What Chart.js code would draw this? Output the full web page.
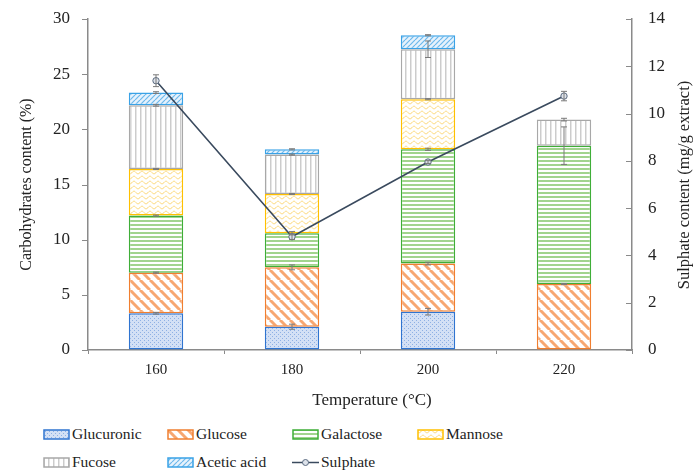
<!DOCTYPE html>
<html>
<head>
<meta charset="utf-8">
<script src="https://cdn.jsdelivr.net/npm/chart.js@4.4.1/dist/chart.umd.min.js"></script>
<style>
    html, body { margin: 0; padding: 0; background: #fff; }
    #wrap { position: relative; width: 696px; height: 473px; }
    #c { position: absolute; left: 0; top: 0; }
    .lg { position: absolute; height: 20px; display: flex; align-items: center;
          font: 15.5px "Liberation Serif", serif; color: #222; white-space: nowrap; }
    .lg canvas { margin-right: 2px; }
</style>
</head>
<body>
<div id="wrap">
    <canvas id="c" width="696" height="415"></canvas>
    <div id="legend"></div>
</div>
<script>
// --- Data ---
const temperatures = ['160', '180', '200', '220'];
const glucuronic = [3.33, 2.11, 3.47, 0];
const glucose    = [3.68, 5.38, 4.36, 5.98];
const galactose  = [5.17, 3.09, 10.36, 12.54];
const mannose    = [4.23, 3.56, 4.54, 0];
const fucose     = [5.77, 3.57, 4.53, 2.36];
const acetic     = [1.15, 0.48, 1.27, 0];
const sulphate   = [11.39, 4.79, 7.95, 10.74];

// error bars (+/-)
const glucuronicErr = [0.08, 0.23, 0.3, 0];
const glucoseErr    = [0.05, 0.22, 0.12, 0.05];
const galactoseErr  = [0.05, 0.15, 0.1, 1.7];
const mannoseErr    = [0.05, 0.05, 0.05, 0];
const fucoseErr     = [0.08, 0.05, 0.75, 0.12];
const aceticErr     = [0.08, 0.05, 0.05, 0];
const sulphateErr   = [0.25, 0.12, 0.06, 0.2];

const leftTitle = 'Carbohydrates content (%)';
const rightTitle = 'Sulphate content (mg/g extract)';
const xTitle = 'Temperature (°C)';

// --- Patterns ---
const tile = (w, h, draw) => {
    const cv = document.createElement('canvas');
    cv.width = w; cv.height = h;
    const g = cv.getContext('2d');
    draw(g, w, h);
    return g.createPattern(cv, 'repeat');
};

const patterns = {
    dots: tile(4, 4, (g) => {
        g.fillStyle = '#d3e0f5'; g.fillRect(0, 0, 4, 4);
        g.fillStyle = '#8eb0e4'; g.fillRect(0, 0, 1, 1); g.fillRect(2, 2, 1, 1);
    }),
    back: tile(10, 10, (g) => {
        g.fillStyle = '#fff'; g.fillRect(0, 0, 10, 10);
        g.strokeStyle = '#f7a771'; g.lineWidth = 3;
        [-10, 0, 10].forEach(k => { g.beginPath(); g.moveTo(k, 0); g.lineTo(k + 10, 10); g.stroke(); });
    }),
    horiz: tile(1, 4, (g) => {
        g.fillStyle = '#fff'; g.fillRect(0, 0, 1, 4);
        g.fillStyle = '#a2d48e'; g.fillRect(0, 0, 1, 2);
    }),
    wave: tile(8, 5, (g) => {
        g.fillStyle = '#fff'; g.fillRect(0, 0, 8, 5);
        g.strokeStyle = '#fcd56e'; g.lineWidth = 1;
        g.beginPath();
        for (let x = 0; x <= 8; x += 0.5) {
            const y = 2.5 + 1.3 * Math.sin(x / 8 * 2 * Math.PI);
            x === 0 ? g.moveTo(x, y) : g.lineTo(x, y);
        }
        g.stroke();
    }),
    vert: tile(5, 1, (g) => {
        g.fillStyle = '#fff'; g.fillRect(0, 0, 5, 1);
        g.fillStyle = '#cccccc'; g.fillRect(0, 0, 1.5, 1);
    }),
    fwd: tile(5, 5, (g) => {
        g.fillStyle = '#e6f2fc'; g.fillRect(0, 0, 5, 5);
        g.strokeStyle = '#6cb8ec'; g.lineWidth = 1.2;
        [-5, 0, 5].forEach(k => { g.beginPath(); g.moveTo(k, 5); g.lineTo(k + 5, 0); g.stroke(); });
    })
};

const barSeries = [
    { label: 'Glucuronic',  data: glucuronic, err: glucuronicErr, fill: patterns.dots,  border: '#2f74d0' },
    { label: 'Glucose',     data: glucose,    err: glucoseErr,    fill: patterns.back,  border: '#f07f30' },
    { label: 'Galactose',   data: galactose,  err: galactoseErr,  fill: patterns.horiz, border: '#3fae38' },
    { label: 'Mannose',     data: mannose,    err: mannoseErr,    fill: patterns.wave,  border: '#ffc000' },
    { label: 'Fucose',      data: fucose,     err: fucoseErr,     fill: patterns.vert,  border: '#a8a8a8' },
    { label: 'Acetic acid', data: acetic,     err: aceticErr,     fill: patterns.fwd,   border: '#3aa2e6' }
];

const lineColor = '#3a4a5e';
const errColor = '#7a7a7a';
const axisColor = '#8a8a8a';
const serif = '"Liberation Serif", serif';
const yTickFont = { family: serif, size: 17 };
const xTickFont = { family: serif, size: 15 };
const titleFont = { family: serif, size: 16 };

// --- Plugins ---
const errorBars = {
    id: 'errorBars',
    afterDatasetsDraw(chart) {
        const { ctx, scales } = chart;
        const cap = 3;
        const drawErr = (x, yc, e, scale) => {
            if (!e) return;
            const y1 = scale.getPixelForValue(yc + e);
            const y2 = scale.getPixelForValue(yc - e);
            ctx.beginPath();
            ctx.moveTo(x, y1); ctx.lineTo(x, y2);
            ctx.moveTo(x - cap, y1); ctx.lineTo(x + cap, y1);
            ctx.moveTo(x - cap, y2); ctx.lineTo(x + cap, y2);
            ctx.stroke();
        };
        ctx.save();
        ctx.strokeStyle = errColor;
        ctx.lineWidth = 1;
        temperatures.forEach((t, j) => {
            const x = scales.x.getPixelForValue(j);
            let top = 0;
            barSeries.forEach(s => {
                top += s.data[j];
                if (s.data[j] > 0) drawErr(x, top, s.err[j], scales.y);
            });
            drawErr(x, sulphate[j], sulphateErr[j], scales.y1);
        });
        ctx.restore();
    }
};

const extras = {
    id: 'extras',
    afterDraw(chart) {
        const { ctx, scales, chartArea } = chart;
        ctx.save();
        // short tick marks: outward on the left axis, inward on the right axis
        ctx.strokeStyle = axisColor;
        ctx.lineWidth = 1;
        scales.y.ticks.forEach(t => {
            const y = Math.round(scales.y.getPixelForValue(t.value)) + 0.5;
            ctx.beginPath();
            ctx.moveTo(chartArea.left - 6, y);
            ctx.lineTo(chartArea.left, y);
            ctx.stroke();
        });
        scales.y1.ticks.forEach(t => {
            const y = Math.round(scales.y1.getPixelForValue(t.value)) + 0.5;
            ctx.beginPath();
            ctx.moveTo(chartArea.right - 6, y);
            ctx.lineTo(chartArea.right, y);
            ctx.stroke();
        });
        ctx.fillStyle = '#222';
        ctx.textAlign = 'center';
        ctx.textBaseline = 'middle';
        // x axis title
        ctx.font = '17px ' + serif;
        ctx.fillText(xTitle, 372, 401);
        // right axis title, reading bottom to top
        ctx.font = '16.5px ' + serif;
        ctx.translate(685, 185);
        ctx.rotate(-Math.PI / 2);
        ctx.fillText(rightTitle, 0, 0);
        ctx.restore();
    }
};

// --- Chart ---
const datasets = barSeries.map(s => ({
    type: 'bar',
    label: s.label,
    data: s.data.map(v => (v > 0 ? v : null)),
    backgroundColor: s.fill,
    borderColor: s.border,
    borderWidth: 1.5,
    borderSkipped: false,
    yAxisID: 'y',
    stack: 'carb',
    order: 2
}));

datasets.push({
    type: 'line',
    label: 'Sulphate',
    data: sulphate,
    yAxisID: 'y1',
    borderColor: lineColor,
    borderWidth: 1.6,
    pointRadius: 3.2,
    pointBackgroundColor: '#dde2ea',
    pointBorderColor: '#5a6a80',
    pointBorderWidth: 1,
    tension: 0,
    order: 0
});

new Chart(document.getElementById('c').getContext('2d'), {
    data: { labels: temperatures, datasets },
    options: {
        responsive: false,
        animation: false,
        layout: { padding: { top: 19, left: 0, right: 0, bottom: 0 } },
        datasets: { bar: { barPercentage: 0.4, categoryPercentage: 1 } },
        plugins: {
            legend: { display: false },
            tooltip: { enabled: false }
        },
        scales: {
            x: {
                stacked: true,
                afterFit: s => { s.height = 65; },
                border: { color: axisColor, width: 1.5 },
                grid: { drawOnChartArea: false, tickLength: 4, color: axisColor, offset: true },
                ticks: { color: '#222', font: xTickFont, padding: 7 }
            },
            y: {
                stacked: true,
                position: 'left',
                min: 0, max: 30,
                afterFit: s => { s.width = 88; },
                border: { color: axisColor, width: 1.5 },
                grid: { drawOnChartArea: false, tickLength: 18, color: 'rgba(0,0,0,0)' },
                ticks: { stepSize: 5, color: '#222', font: yTickFont, padding: 0 },
                title: { display: true, text: leftTitle, color: '#222', font: titleFont, padding: { top: 17, bottom: 0 } }
            },
            y1: {
                position: 'right',
                min: 0, max: 14,
                afterFit: s => { s.width = 64; },
                border: { color: axisColor, width: 1.5 },
                grid: { drawOnChartArea: false, tickLength: 16, color: 'rgba(0,0,0,0)' },
                ticks: { stepSize: 2, color: '#222', font: yTickFont, padding: 0 }
            }
        }
    },
    plugins: [errorBars, extras]
});

// --- Legend ---
const legend = document.getElementById('legend');
const cols = [43, 167, 292, 417];
const rows = [434, 462];
const legendItems = barSeries.map(s => ({ label: s.label, fill: s.fill, border: s.border }));
legendItems.push({ label: 'Sulphate', line: true });

legendItems.forEach((it, i) => {
    const el = document.createElement('div');
    el.className = 'lg';
    el.style.left = cols[i % 4] + 'px';
    el.style.top = (rows[Math.floor(i / 4)] - 10) + 'px';
    const sw = document.createElement('canvas');
    sw.width = 27; sw.height = 11;
    const g = sw.getContext('2d');
    if (it.line) {
        g.strokeStyle = lineColor; g.lineWidth = 1.5;
        g.beginPath(); g.moveTo(0, 5.5); g.lineTo(27, 5.5); g.stroke();
        g.fillStyle = '#dde2ea'; g.strokeStyle = '#5a6a80'; g.lineWidth = 1;
        g.beginPath(); g.arc(13.5, 5.5, 3, 0, Math.PI * 2); g.fill(); g.stroke();
    } else {
        g.fillStyle = it.fill; g.fillRect(1, 1, 25, 9);
        g.strokeStyle = it.border; g.lineWidth = 1.5; g.strokeRect(1, 1, 25, 9);
    }
    el.appendChild(sw);
    const tx = document.createElement('span');
    tx.textContent = it.label;
    el.appendChild(tx);
    legend.appendChild(el);
});
</script>
</body>
</html>
